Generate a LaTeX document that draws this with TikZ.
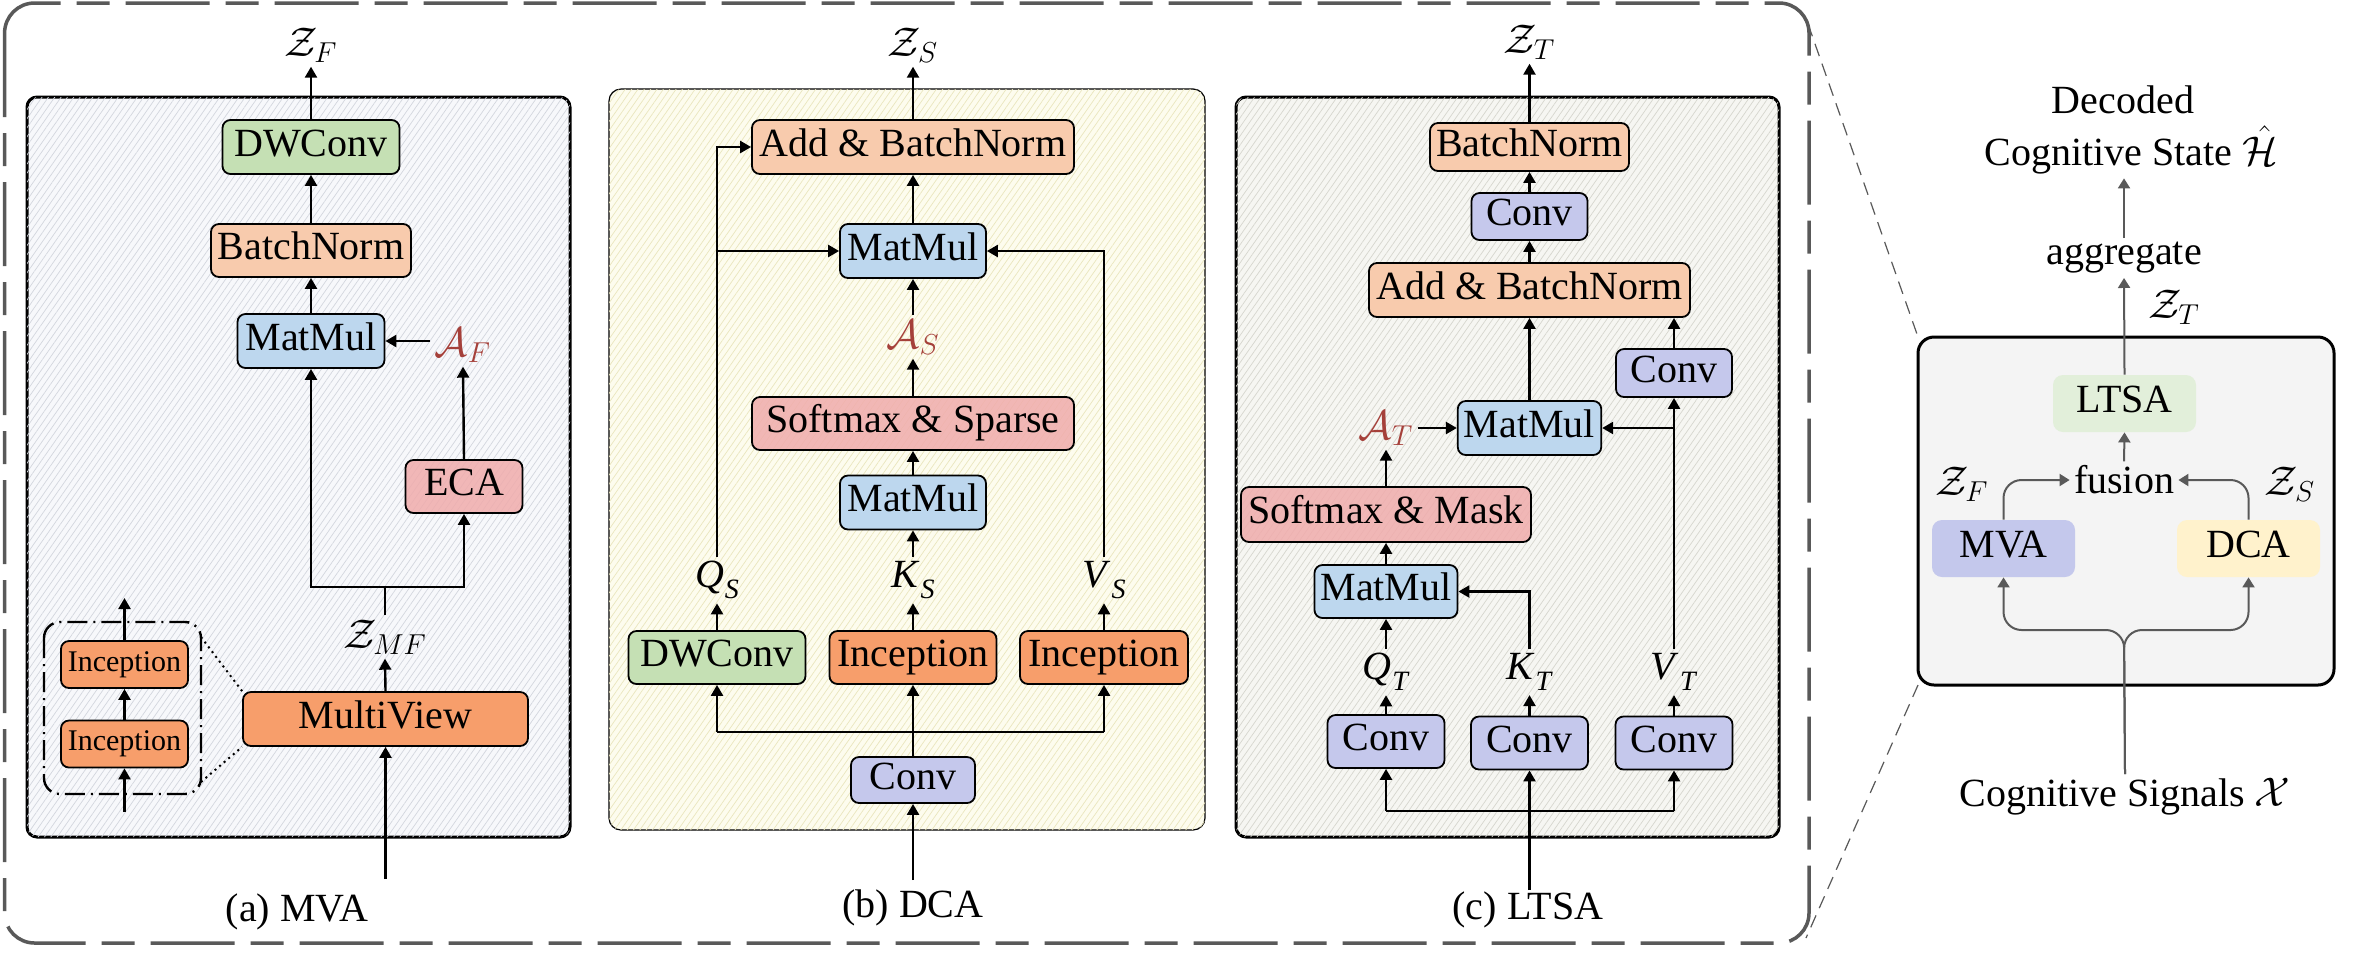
\documentclass[tikz,border=0pt]{standalone}
\usepackage{fontspec}
\setmainfont{Liberation Serif}
\usetikzlibrary{arrows.meta,patterns.meta,calc}
\newcommand\qkv[2]{\textit{#1}\kern0.5pt\raisebox{-0.28em}{\fontsize{14}{16}\selectfont\textit{#2}}}
\definecolor{cgreen}{HTML}{C5E0B4}
\definecolor{corange}{HTML}{F8CBAD}
\definecolor{cblue}{HTML}{BDD7EE}
\definecolor{cred}{HTML}{F0ACAC}
\definecolor{cdeep}{HTML}{F79E6B}
\definecolor{cconv}{HTML}{C5C8EC}
\definecolor{cA}{HTML}{A5403A}
\definecolor{cgray}{HTML}{595959}
\definecolor{bgA}{HTML}{F7F8FB}
\definecolor{lnA}{HTML}{D3D6DE}
\definecolor{bgB}{HTML}{FDFCEE}
\definecolor{lnB}{HTML}{EAE6BE}
\definecolor{bgC}{HTML}{F6F6F2}
\definecolor{lnC}{HTML}{D6D6CE}
\definecolor{bgR}{HTML}{F4F4F4}
\definecolor{cltsa}{HTML}{E2EFDA}
\definecolor{cmva}{HTML}{C4C8EC}
\definecolor{cdca}{HTML}{FFF2CC}
\begin{document}
\begin{tikzpicture}[x=0.5pt,y=-0.5pt,
  box/.style={draw=black, line width=0.9pt, rounded corners=4pt, inner sep=0pt,
    minimum height=27pt, text height=13.5pt, text depth=4.5pt,
    font=\fontsize{20}{24}\selectfont},
  smallbox/.style={box, minimum height=23.5pt, text height=10pt, text depth=3.4pt,
    font=\fontsize{15}{18}\selectfont},
  softbox/.style={inner sep=0pt, rounded corners=5pt, minimum height=28.5pt,
    minimum width=71.5pt, text height=13.5pt, text depth=4.5pt,
    font=\fontsize{20}{24}\selectfont},
  lab/.style={inner sep=2pt, font=\fontsize{20}{24}\selectfont},
  arr/.style={-{Triangle[length=5.5pt,width=6pt]}, line width=1.2pt},
  ln/.style={line width=1.2pt},
  garr/.style={-{Triangle[length=5pt,width=6pt]}, cgray, line width=1pt},
  panelA/.style={draw=black, line width=1.5pt, rounded corners=5pt, fill=bgA,
    postaction={pattern={Lines[angle=55,distance=2.6pt,line width=0.35pt]}, pattern color=lnA}},
  panelB/.style={draw=black, line width=0.6pt, rounded corners=6pt, fill=bgB,
    postaction={pattern={Lines[angle=55,distance=2.6pt,line width=0.35pt]}, pattern color=lnB}},
  panelC/.style={draw=black, line width=1.5pt, rounded corners=5pt, fill=bgC,
    postaction={pattern={Lines[angle=55,distance=2.6pt,line width=0.35pt]}, pattern color=lnC}},
]
\useasboundingbox (0,0) rectangle (2359,955);
\fill[white] (0,0) rectangle (2359,955);

% outer dashed frame
\draw[cgray, line width=1.75pt, rounded corners=15pt,
  dash pattern=on 42pt off 8pt on 16.5pt off 8pt] (4.6,3) rectangle (1809,943);

% ================= (a) MVA =================
\path[panelA] (27,97) rectangle (570,837);
\node[box, fill=cgreen, minimum width=88.5pt] (dwa) at (311,147) {DWConv};
\node[box, fill=corange, minimum width=100pt, minimum height=26.5pt] (bna) at (311,250.5) {BatchNorm};
\node[box, fill=cblue, minimum width=73.5pt] (mma) at (311,341) {MatMul};
\node[lab, text=cA] (af) at (463,345) {$\mathcal{A}_{F}$};
\node[box, fill=cred, fill opacity=0.85, text opacity=1, minimum width=58.5pt, minimum height=26.5pt] (eca) at (464,486.5) {ECA};
\node[box, fill=cdeep, minimum width=142.5pt] (mv) at (385.5,719) {MultiView};
\node[lab] (zmf) at (385,637) {$\mathcal{Z}_{MF}$};
\node[lab] (zf) at (311,45) {$\mathcal{Z}_{F}$};
\coordinate (ja) at (385,587);
\coordinate (ina) at (385.5,879);
\draw[arr] (ina) -- (mv.south);
\draw[arr] (mv.north) -- (zmf.south);
\draw[ln] (zmf.north) -- (ja);
\draw[arr] (ja) -| (mma.south);
\draw[arr] (ja) -| (eca.south);
\draw[arr] (eca.north) -- (af.south);
\draw[arr] (af.west |- mma.east) -- (mma.east);
\draw[arr] (mma.north) -- (bna.south);
\draw[arr] (bna.north) -- (dwa.south);
\draw[arr] (dwa.north) -- (zf.south);
% inset
\draw[line width=1.2pt, rounded corners=8pt, dash pattern=on 10pt off 3pt on 1pt off 3pt] (44,622) rectangle (201,794);
\node[smallbox, fill=cdeep, minimum width=63.5pt] (inc1) at (124.5,664.5) {Inception};
\node[smallbox, fill=cdeep, minimum width=63.5pt] (inc2) at (124.5,744) {Inception};
\coordinate (iia) at (124.5,812);
\coordinate (iib) at (124.5,598);
\draw[arr] (iia) -- (inc2.south);
\draw[arr] (inc2.north) -- (inc1.south);
\draw[arr] (inc1.north) -- (iib);
\coordinate (dta) at (201,637);
\coordinate (dtb) at (201,782);
\draw[line width=1pt, dotted] (dta) -- (mv.north west);
\draw[line width=1pt, dotted] (dtb) -- (mv.south west);
\node[lab] (capa) at (297,912) {(a) MVA};

% ================= (b) DCA =================
\path[panelB] (609,89) rectangle (1205,830);
\node[box, fill=corange, minimum width=161pt] (abb) at (913,147) {Add \& BatchNorm};
\node[box, fill=cblue, minimum width=73pt] (mmb1) at (913,251) {MatMul};
\node[lab, text=cA] (as) at (913,337) {$\mathcal{A}_{S}$};
\node[box, fill=cred, fill opacity=0.85, text opacity=1, minimum width=161pt, minimum height=26.5pt] (ss) at (913,423.5) {Softmax \& Sparse};
\node[box, fill=cblue, minimum width=73pt] (mmb2) at (913,502.5) {MatMul};
\node[lab] (qs) at (717,580) {\qkv{Q}{S}};
\node[lab] (ks) at (913,580) {\qkv{K}{S}};
\node[lab] (vs) at (1104,580) {\qkv{V}{S}};
\node[box, fill=cgreen, minimum width=88.5pt, minimum height=26.5pt] (dwb) at (717,657.5) {DWConv};
\node[box, fill=cdeep, minimum width=83.5pt, minimum height=26.5pt] (incb1) at (913,657.5) {Inception};
\node[box, fill=cdeep, minimum width=84pt, minimum height=26.5pt] (incb2) at (1104,657.5) {Inception};
\node[box, fill=cconv, minimum width=62pt, minimum height=23pt] (convb) at (913,780) {Conv};
\node[lab] (zs) at (913,45) {$\mathcal{Z}_{S}$};
\coordinate (inb) at (913,880);
\coordinate (jbl) at (717,732);
\coordinate (jbr) at (1104,732);
\draw[arr] (inb) -- (convb.south);
\draw[arr] (convb.north) -- (incb1.south);
\draw[ln] (jbl) -- (jbr);
\draw[arr] (jbl) -- (dwb.south);
\draw[arr] (jbr) -- (incb2.south);
\draw[arr] (dwb.north) -- (qs.south);
\draw[arr] (incb1.north) -- (ks.south);
\draw[arr] (incb2.north) -- (vs.south);
\draw[arr] (ks.north) -- (mmb2.south);
\draw[arr] (mmb2.north) -- (ss.south);
\draw[arr] (ss.north) -- (as.south);
\draw[arr] (as.north) -- (mmb1.south);
\draw[arr] (mmb1.north) -- (abb.south);
\draw[arr] (abb.north) -- (zs.south);
\draw[arr] (qs.north) |- (abb.west);
\draw[arr] (qs.north |- mmb1.west) -- (mmb1.west);
\draw[arr] (vs.north) |- (mmb1.east);
\node[lab] (capb) at (913,908) {(b) DCA};

% ================= (c) LTSA =================
\path[panelC] (1236,97) rectangle (1779,837);
\node[box, fill=corange, minimum width=99.5pt, minimum height=24pt] (bnc) at (1529.5,147) {BatchNorm};
\node[box, fill=cconv, minimum width=58pt, minimum height=23.5pt] (convc1) at (1529.5,216.5) {Conv};
\node[box, fill=corange, minimum width=160.5pt] (abc) at (1529.5,290) {Add \& BatchNorm};
\node[box, fill=cconv, minimum width=58pt, minimum height=24pt] (convr) at (1674,373) {Conv};
\node[box, fill=cblue, minimum width=71.75pt] (mmc1) at (1529.5,428) {MatMul};
\node[lab, text=cA] (at) at (1386,428) {$\mathcal{A}_{T}$};
\node[box, fill=cred, fill opacity=0.85, text opacity=1, minimum width=145pt, minimum height=27.5pt] (sm) at (1386,514.5) {Softmax \& Mask};
\node[box, fill=cblue, minimum width=71.5pt, minimum height=26.5pt] (mmc2) at (1386,591.5) {MatMul};
\node[lab] (qt) at (1386,672) {\qkv{Q}{T}};
\node[lab] (kt) at (1529.5,672) {\qkv{K}{T}};
\node[lab] (vt) at (1674,672) {\qkv{V}{T}};
\node[box, fill=cconv, minimum width=58.5pt, minimum height=26.5pt] (convq) at (1386,741.5) {Conv};
\node[box, fill=cconv, minimum width=58.5pt, minimum height=26.5pt] (convk) at (1529.5,743) {Conv};
\node[box, fill=cconv, minimum width=58.5pt, minimum height=26.5pt] (convv) at (1674,743) {Conv};
\node[lab] (zt) at (1529.5,42) {$\mathcal{Z}_{T}$};
\coordinate (inc) at (1529.5,890);
\coordinate (jcl) at (1386,811);
\coordinate (jcr) at (1674,811);
\draw[arr] (inc) -- (convk.south);
\draw[ln] (jcl) -- (jcr);
\draw[arr] (jcl) -- (convq.south);
\draw[arr] (jcr) -- (convv.south);
\draw[arr] (convq.north) -- (qt.south);
\draw[arr] (convk.north) -- (kt.south);
\draw[arr] (convv.north) -- (vt.south);
\draw[arr] (qt.north) -- (mmc2.south);
\draw[arr] (kt.north) |- (mmc2.east);
\draw[arr] (mmc2.north) -- (sm.south);
\draw[arr] (sm.north) -- (at.south);
\draw[arr] (at.east |- mmc1.west) -- (mmc1.west);
\draw[arr] (vt.north) -- (convr.south);
\draw[arr] (vt.north |- mmc1.east) -- (mmc1.east);
\draw[arr] (convr.north) -- (convr.north |- abc.south);
\draw[arr] (mmc1.north) -- (abc.south);
\draw[arr] (abc.north) -- (convc1.south);
\draw[arr] (convc1.north) -- (bnc.south);
\draw[arr] (bnc.north) -- (zt.south);
\node[lab] (capc) at (1528,910) {(c) LTSA};

% ================= overview =================
\coordinate (ztop) at (1808,24);
\coordinate (zbot) at (1806,938);
\path[draw=black, line width=1.5pt, rounded corners=8pt, fill=bgR] (1918,337) rectangle (2334,685);
\draw[cgray, line width=0.6pt, dash pattern=on 6.5pt off 4pt] (ztop) -- (1918,337);
\draw[cgray, line width=0.6pt, dash pattern=on 6.5pt off 4pt] (1918,685) -- (zbot);
\node[softbox, fill=cltsa] (ltsa) at (2124.5,403.5) {LTSA};
\node[softbox, fill=cmva] (mvar) at (2003.5,548.5) {MVA};
\node[softbox, fill=cdca] (dcar) at (2248.5,548.5) {DCA};
\node[lab] (fus) at (2124,480) {fusion};
\node[lab] (zfr) at (1962,484) {$\mathcal{Z}_{F}$};
\node[lab] (zsr) at (2290,484) {$\mathcal{Z}_{S}$};
\node[lab] (ztr) at (2174,307) {$\mathcal{Z}_{T}$};
\node[lab] (agg) at (2124,258) {aggregate};
\node[lab] (dec1) at (2123,100) {Decoded};
\node[lab] (dec2) at (2131,150) {Cognitive State $\hat{\mathcal{H}}$};
\node[lab] (cog) at (2125,797) {Cognitive Signals $\mathcal{X}$};
\coordinate (split) at (2124,630);
\draw[garr, rounded corners=9pt] (cog.north) -- (split) -| (mvar.south);
\draw[garr, rounded corners=9pt] (cog.north) -- (split) -| (dcar.south);
\draw[garr, rounded corners=9pt] (mvar.north) |- (fus.west);
\draw[garr, rounded corners=9pt] (dcar.north) |- (fus.east);
\draw[garr] (fus.north) -- (ltsa.south);
\draw[garr] (ltsa.north) -- (agg.south);
\draw[garr] (agg.north) -- (agg.north |- dec2.south);
\end{tikzpicture}
\end{document}
